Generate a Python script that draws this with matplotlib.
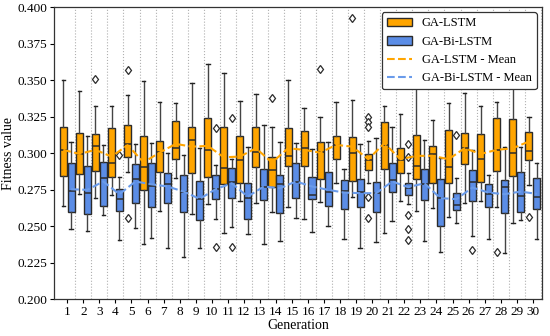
import matplotlib
matplotlib.use("Agg")
import matplotlib.pyplot as plt
from matplotlib.patches import Patch
from matplotlib.lines import Line2D
import numpy as np

plt.rcParams['font.family'] = ['Liberation Serif', 'DejaVu Serif']

generations = list(range(1, 31))

# GA-LSTM box statistics
lstm_whislo = [0.2640, 0.2720, 0.2696, 0.2714, 0.2874, 0.2377, 0.2605, 0.2833, 0.2584, 0.2650,
               0.2456, 0.2669, 0.2662, 0.2596, 0.2634, 0.2548, 0.2664, 0.2794, 0.2703, 0.2794,
               0.2456, 0.2669, 0.2607, 0.2623, 0.2566, 0.2657, 0.2669, 0.2634, 0.2520, 0.2783]
lstm_q1 = [0.2845, 0.2858, 0.2879, 0.2840, 0.2977, 0.2749, 0.2874, 0.2959, 0.2867, 0.2835,
           0.2790, 0.2794, 0.2908, 0.2771, 0.2913, 0.2913, 0.2824, 0.2959, 0.2810, 0.2886,
           0.2892, 0.2863, 0.2822, 0.2794, 0.2799, 0.2927, 0.2806, 0.2881, 0.2845, 0.2954]
lstm_med = [0.3023, 0.2995, 0.3052, 0.2931, 0.3064, 0.2903, 0.3007, 0.3034, 0.3091, 0.3023,
            0.2897, 0.2954, 0.3011, 0.2886, 0.2981, 0.3036, 0.3011, 0.3057, 0.3000, 0.2954,
            0.3057, 0.2954, 0.2913, 0.2993, 0.2908, 0.3039, 0.2959, 0.3023, 0.3004, 0.3016]
lstm_q3 = [0.3182, 0.3141, 0.3130, 0.3171, 0.3194, 0.3118, 0.3082, 0.3224, 0.3182, 0.3240,
           0.3178, 0.3118, 0.3178, 0.2977, 0.3171, 0.3155, 0.3075, 0.3118, 0.3109, 0.2995,
           0.3217, 0.3034, 0.3123, 0.3052, 0.3160, 0.3141, 0.3132, 0.3240, 0.3233, 0.3148]
lstm_whishi = [0.3502, 0.3429, 0.3324, 0.3324, 0.3399, 0.3493, 0.3354, 0.3347, 0.3479, 0.3612,
               0.3548, 0.3360, 0.3406, 0.3182, 0.3502, 0.3313, 0.3251, 0.3352, 0.3365, 0.3084,
               0.3324, 0.3269, 0.3491, 0.3228, 0.3342, 0.3415, 0.3324, 0.3354, 0.3495, 0.3251]
lstm_fliers = [[], [], [0.3507], [], [0.3571, 0.2559], [], [], [], [], [],
               [], [], [], [0.3376], [], [], [0.3577], [], [0.3924],
               [0.3251, 0.3217, 0.3182, 0.2698, 0.2559],
               [], [], [], [], [], [], [], [0.2326], [], [0.3593, 0.2566]]
lstm_mean = [0.3023, 0.2995, 0.3023, 0.2977, 0.3055, 0.2938, 0.3004, 0.3064, 0.3045, 0.3050,
             0.2972, 0.2977, 0.3034, 0.2936, 0.3034, 0.3023, 0.3004, 0.3057, 0.3045, 0.2959,
             0.3068, 0.2959, 0.2982, 0.2982, 0.2959, 0.3034, 0.2995, 0.3023, 0.3034, 0.3080]

# GA-Bi-LSTM box statistics
bilstm_whislo = [0.2479, 0.2470, 0.2573, 0.2402, 0.2486, 0.2418, 0.2349, 0.2285, 0.2349, 0.2548,
                 0.2497, 0.2445, 0.2379, 0.2395, 0.2555, 0.2463, 0.2498, 0.2411, 0.2349, 0.2388,
                 0.2532, 0.2653, 0.2399, 0.2326, 0.2520, 0.2429, 0.2411, 0.2315, 0.2543, 0.2411]
bilstm_q1 = [0.2596, 0.2582, 0.2639, 0.2607, 0.2662, 0.2630, 0.2662, 0.2598, 0.2543, 0.2685,
             0.2696, 0.2548, 0.2680, 0.2589, 0.2692, 0.2685, 0.2639, 0.2618, 0.2630, 0.2600,
             0.2737, 0.2714, 0.2680, 0.2502, 0.2612, 0.2669, 0.2634, 0.2589, 0.2600, 0.2616]
bilstm_med = [0.2744, 0.2726, 0.2831, 0.2685, 0.2822, 0.2778, 0.2790, 0.2735, 0.2689, 0.2753,
              0.2806, 0.2692, 0.2771, 0.2790, 0.2806, 0.2714, 0.2737, 0.2744, 0.2737, 0.2730,
              0.2813, 0.2760, 0.2790, 0.2692, 0.2646, 0.2806, 0.2721, 0.2765, 0.2708, 0.2703]
bilstm_q3 = [0.2931, 0.2913, 0.2940, 0.2758, 0.2927, 0.2936, 0.2867, 0.2851, 0.2808, 0.2849,
             0.2899, 0.2799, 0.2892, 0.2851, 0.2931, 0.2840, 0.2872, 0.2817, 0.2822, 0.2806,
             0.2931, 0.2799, 0.2892, 0.2824, 0.2730, 0.2886, 0.2787, 0.2817, 0.2874, 0.2829]
bilstm_whishi = [0.3080, 0.3118, 0.3057, 0.2840, 0.3064, 0.3073, 0.3004, 0.2988, 0.3034, 0.2918,
                 0.2959, 0.3041, 0.3192, 0.3080, 0.3068, 0.3027, 0.3080, 0.2890, 0.3064, 0.3102,
                 0.3182, 0.2863, 0.3091, 0.2966, 0.2829, 0.3023, 0.2851, 0.3045, 0.3041, 0.2936]
bilstm_fliers = [[], [], [], [0.2988], [], [], [], [], [], [0.3176, 0.2356],
                 [0.3240, 0.2354], [], [], [], [], [], [], [], [], [],
                 [], [0.3061, 0.2972, 0.2577, 0.2479, 0.2406], [], [], [0.3125], [0.2338],
                 [], [], [], []]
bilstm_mean = [0.2753, 0.2749, 0.2806, 0.2719, 0.2806, 0.2787, 0.2772, 0.2737, 0.2687, 0.2753,
               0.2794, 0.2703, 0.2772, 0.2760, 0.2806, 0.2772, 0.2749, 0.2730, 0.2726, 0.2726,
               0.2806, 0.2767, 0.2794, 0.2692, 0.2685, 0.2765, 0.2730, 0.2719, 0.2737, 0.2721]

y_ticks = [0.200, 0.225, 0.250, 0.275, 0.300, 0.325, 0.350, 0.375, 0.400]

ORANGE = '#FFA500'
BLUE = '#5B8DE6'
BLUE_LINE = '#6A9BEA'
EDGE = '#2b2b2b'


def make_stats(lo, q1, med, q3, hi, fl):
    return [dict(whislo=a, q1=b, med=c, q3=d, whishi=e, fliers=f)
            for a, b, c, d, e, f in zip(lo, q1, med, q3, hi, fl)]


fig = plt.figure(figsize=(5.5, 3.36), dpi=100)
ax = fig.add_axes([0.0987, 0.110, 0.8863, 0.868])

x = np.array(generations, dtype=float)
off = 0.245
w = 0.44

common = dict(widths=w, patch_artist=True, showfliers=True, manage_ticks=False,
              whiskerprops=dict(color='#444444', lw=1.0),
              capprops=dict(color='#222222', lw=1.0),
              medianprops=dict(color=EDGE, lw=1.1),
              flierprops=dict(marker='d', markerfacecolor='white', markeredgecolor=EDGE,
                              markersize=4.5, markeredgewidth=0.9))

ax.bxp(make_stats(lstm_whislo, lstm_q1, lstm_med, lstm_q3, lstm_whishi, lstm_fliers),
       positions=x - off,
       boxprops=dict(facecolor=ORANGE, edgecolor=EDGE, lw=1.0), **common)
ax.bxp(make_stats(bilstm_whislo, bilstm_q1, bilstm_med, bilstm_q3, bilstm_whishi, bilstm_fliers),
       positions=x + off,
       boxprops=dict(facecolor=BLUE, edgecolor=EDGE, lw=1.0), **common)

ax.plot(x - off, lstm_mean, ls='--', color=ORANGE, lw=1.5, zorder=5)
ax.plot(x + off, bilstm_mean, ls='--', color=BLUE_LINE, lw=1.5, zorder=5)

for g in generations:
    ax.axvline(g + 0.5, color='#b0b0b0', ls=':', lw=0.8, zorder=0)

ax.set_xlim(0.19, 30.56)
ax.set_ylim(0.2, 0.4)
ax.set_xticks(generations)
ax.set_xticklabels([str(g) for g in generations])
ax.set_yticks(y_ticks)
ax.set_yticklabels([f"{t:.3f}" for t in y_ticks])
ax.tick_params(labelsize=9.5, length=3, width=0.8, pad=2)
for s in ax.spines.values():
    s.set_color('#333333')
    s.set_linewidth(0.9)

ax.set_xlabel('Generation', fontsize=10, labelpad=1)
ax.set_ylabel('Fitness value', fontsize=10, labelpad=2)

handles = [Patch(facecolor=ORANGE, edgecolor=EDGE, label='GA-LSTM'),
           Patch(facecolor=BLUE, edgecolor=EDGE, label='GA-Bi-LSTM'),
           Line2D([], [], color=ORANGE, ls='--', lw=1.5, label='GA-LSTM - Mean'),
           Line2D([], [], color=BLUE_LINE, ls='--', lw=1.5, label='GA-Bi-LSTM - Mean')]
leg = ax.legend(handles=handles, loc='upper right', fontsize=9, framealpha=1,
                fancybox=True, borderaxespad=0.4)
leg.get_frame().set_edgecolor('#333333')
leg.get_frame().set_linewidth(0.9)

fig.savefig('out.png', dpi=100)
